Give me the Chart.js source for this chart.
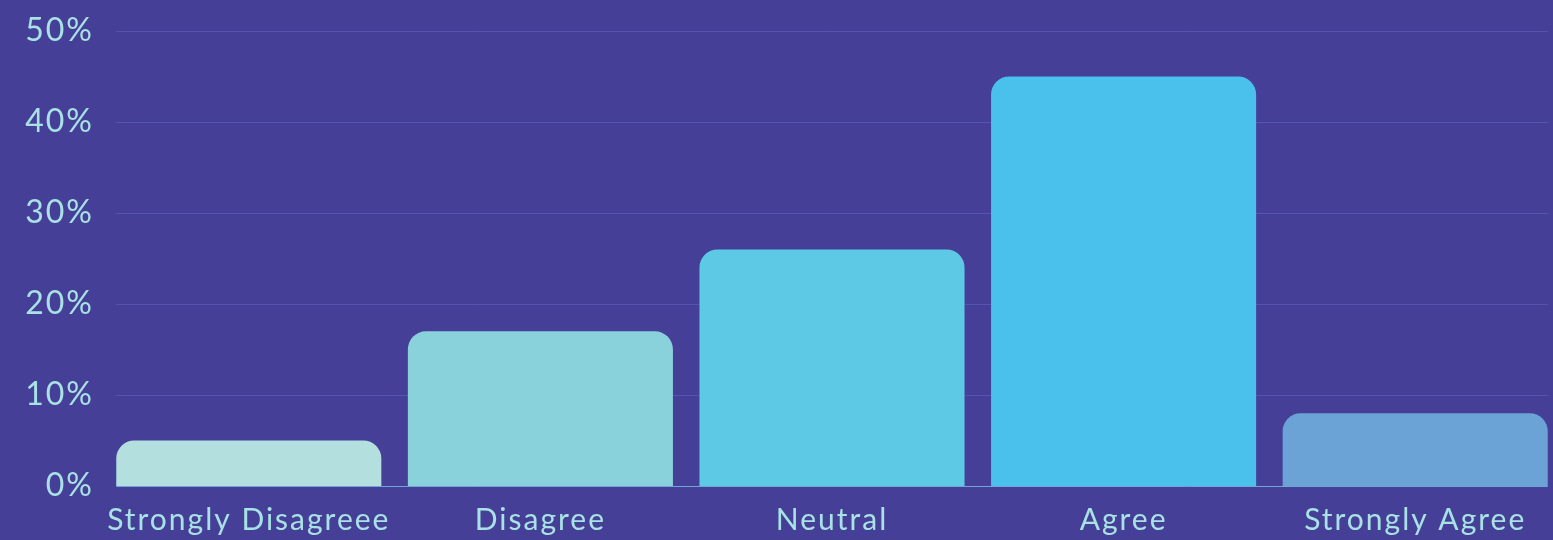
<!DOCTYPE html>
<html>
<head>
<meta charset="utf-8">
<script src="https://cdn.jsdelivr.net/npm/chart.js@4.4.1/dist/chart.umd.min.js"></script>
<style>
    html, body { margin: 0; padding: 0; background: #463f98; overflow: hidden; }
    #wrap { width: 1561px; height: 540px; position: relative; }
</style>
</head>
<body>
<div id="wrap"><canvas id="bars"></canvas></div>
<script>
const categories = ['Strongly Disagreee', 'Disagree', 'Neutral', 'Agree', 'Strongly Agree'];
const shares = [5, 17, 26, 45, 8];
const barColors = ['#b3e0df', '#89d2dc', '#5dc9e5', '#4ac0ec', '#6ba3d6'];
const yTicks = [0, 10, 20, 30, 40, 50];

const textColor = '#a8e2e4';

// grid lines only span the bars, like the original
const barGrid = {
    id: 'barGrid',
    beforeDraw(chart) {
        // the original font is wider, so open the letters up a bit
        chart.ctx.letterSpacing = '2px';
    },
    beforeDatasetsDraw(chart) {
        const bars = chart.getDatasetMeta(0).data;
        const first = bars[0], last = bars[bars.length - 1];
        const x0 = first.x - first.width / 2;
        const x1 = last.x + last.width / 2;
        const y = chart.scales.y;
        const c = chart.ctx;
        c.save();
        yTicks.forEach(t => {
            const py = Math.round(y.getPixelForValue(t)) + 0.5;
            c.strokeStyle = t === 0 ? '#6fa6d8' : '#5357ad';
            c.lineWidth = 1;
            c.beginPath();
            c.moveTo(x0, py);
            c.lineTo(x1, py);
            c.stroke();
        });
        c.restore();
    }
};

const ctx = document.getElementById('bars').getContext('2d');
const chart = new Chart(ctx, {
    type: 'bar',
    data: {
        labels: categories,
        datasets: [{
            data: shares,
            backgroundColor: barColors,
            borderRadius: { topLeft: 18, topRight: 18 },
            borderSkipped: 'bottom',
            barPercentage: 0.909,
            categoryPercentage: 1
        }]
    },
    options: {
        responsive: true,
        maintainAspectRatio: false,
        animation: false,
        layout: { padding: { top: 31, left: 0, right: 0, bottom: 0 } },
        plugins: {
            legend: { display: false },
            tooltip: { enabled: false }
        },
        scales: {
            x: {
                grid: { display: false },
                border: { display: false },
                ticks: {
                    color: textColor,
                    padding: 8,
                    maxRotation: 0,
                    font: { family: 'Lato', size: 30 }
                },
                afterFit(scale) { scale.height = 54; }
            },
            y: {
                min: 0,
                max: 50,
                grid: { display: false },
                border: { display: false },
                afterBuildTicks(scale) { scale.ticks = yTicks.map(v => ({ value: v })); },
                ticks: {
                    color: textColor,
                    padding: 1,
                    font: { family: 'Lato', size: 32 },
                    callback: v => v + '%'
                },
                afterFit(scale) { scale.width = 103; }
            }
        }
    },
    plugins: [barGrid]
});
</script>
</body>
</html>
